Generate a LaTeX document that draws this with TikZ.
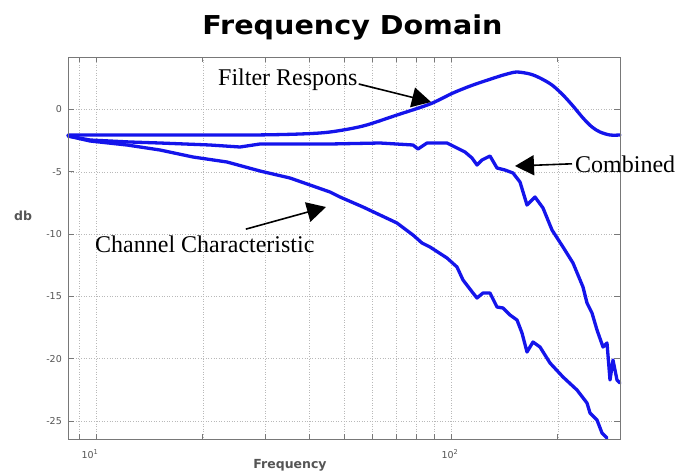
\documentclass[tikz,border=0pt]{standalone}
\usepackage{fontspec}
\setmainfont{Liberation Serif}
\newfontfamily\sansdj{DejaVu Sans}
\usetikzlibrary{arrows.meta}
\definecolor{curveblue}{RGB}{20,20,235}
\definecolor{gridgray}{RGB}{185,185,185}
\definecolor{framegray}{RGB}{120,120,120}
\definecolor{ticklabel}{RGB}{85,85,85}
\begin{document}
\begin{tikzpicture}[x=1pt,y=-1pt,
  curve/.style={curveblue, line width=3.3pt, line join=round, line cap=round},
  gridline/.style={gridgray, dotted, line width=0.6pt},
  frame/.style={framegray, line width=0.8pt},
  annot/.style={font=\fontsize{24}{24}\selectfont, inner sep=0pt},
  arr/.style={black, line width=1.6pt, -{Triangle[length=19pt,width=20pt]}},
  ticklab/.style={font=\sansdj\fontsize{9.5}{10}\selectfont, text=ticklabel, inner sep=0pt},
  axlab/.style={font=\sansdj\bfseries\fontsize{12.5}{12.5}\selectfont, text=ticklabel, inner sep=0pt},
]
\useasboundingbox (0,0) rectangle (675,472);
\fill[white] (0,0) rectangle (675,472);

% grid and ticks
\foreach \f in {9,10,20,30,40,50,60,70,80,90,100,200}{
  \pgfmathsetmacro\xx{96+355*(log10(\f)-1)}
  \draw[gridline] (\xx,57) -- (\xx,439);
  \draw[frame] (\xx,439) -- (\xx,434);
  \draw[frame] (\xx,57) -- (\xx,62);
}
\foreach \d [count=\i] in {0,-5,-10,-15,-20,-25}{
  \pgfmathsetmacro\yy{109.5-12.46*\d}
  \draw[gridline] (68,\yy) -- (620,\yy);
  \draw[frame] (68,\yy) -- (74,\yy);
  \draw[frame] (620,\yy) -- (614,\yy);
  \node[ticklab, anchor=east, name=ytick\i] at (62,\yy) {\d};
}

% curves
\draw[curve] plot[smooth, tension=0.5] coordinates {
 (68,135) (150,135) (250,135) (300,134) (330,132) (363,126) (397,115)
 (430,104) (453,93) (473,85) (497,77) (507,74) (517,72) (530,74) (540,78)
 (552,85) (563,95) (573,106) (583,118) (592,127) (600,132) (610,135) (620,135)};

\draw[curve] (68,136) -- (90,140) -- (130,142) -- (160,143) -- (210,145)
 -- (240,147) -- (260,144) -- (290,144) -- (330,144) -- (380,143) -- (413,145)
 -- (418,149) -- (427,143) -- (447,143) -- (457,148) -- (465,152) -- (472,158)
 -- (477,165) -- (482,160) -- (490,156) -- (497,168) -- (505,170) -- (513,173)
 -- (520,182) -- (527,205) -- (535,197) -- (543,208) -- (552,230) -- (563,247)
 -- (573,263) -- (583,287) -- (587,303) -- (592,313) -- (597,330) -- (603,347)
 -- (607,343) -- (610,380) -- (613,360) -- (617,380) -- (620,383);

\draw[curve] (68,136) -- (90,141) -- (127,145) -- (160,150) -- (193,157)
 -- (227,162) -- (260,171) -- (290,178) -- (310,185) -- (330,192) -- (340,197)
 -- (363,207) -- (397,223) -- (413,235) -- (422,243) -- (430,247) -- (447,258)
 -- (457,267) -- (463,280) -- (473,293) -- (477,298) -- (483,293) -- (490,293)
 -- (497,307) -- (503,308) -- (510,315) -- (517,320) -- (522,333) -- (527,352)
 -- (533,342) -- (540,347) -- (550,363) -- (563,377) -- (577,390) -- (587,403)
 -- (590,413) -- (597,420) -- (602,433) -- (607,438);

% frame
\draw[frame] (68,57) rectangle (620,439);

% axis labels
\node[ticklab, anchor=base, name=xtick1] at (90,458) {10\textsuperscript{1}};
\node[ticklab, anchor=base, name=xtick2] at (450,458) {10\textsuperscript{2}};
\node[axlab, anchor=base, name=xlab] at (290,468) {Frequency};
\node[axlab, anchor=base, name=ylab] at (23,220) {db};

% title
\node[font=\sansdj\bfseries\fontsize{26}{26}\selectfont, anchor=base, xscale=1.1, name=title] at (352.5,34) {Frequency Domain};

% annotations
\node[annot, anchor=base west, name=fr] at (218,85) {Filter Respons};
\node[annot, anchor=base west, name=chc] at (95,252) {Channel Characteristic};
\node[annot, anchor=base west, name=cb] at (575,172) {Combined};

\coordinate (tipF) at (431,102);
\coordinate (tipC) at (326,207);
\coordinate (tipB) at (515,166);

\draw[arr] (fr.base east) ++(1,-1) -- (tipF);
\draw[arr] ([shift={(41,-6)}]chc.north) -- (tipC);
\draw[arr] ([xshift=-3pt]cb.west) -- (tipB);
\end{tikzpicture}
\end{document}
